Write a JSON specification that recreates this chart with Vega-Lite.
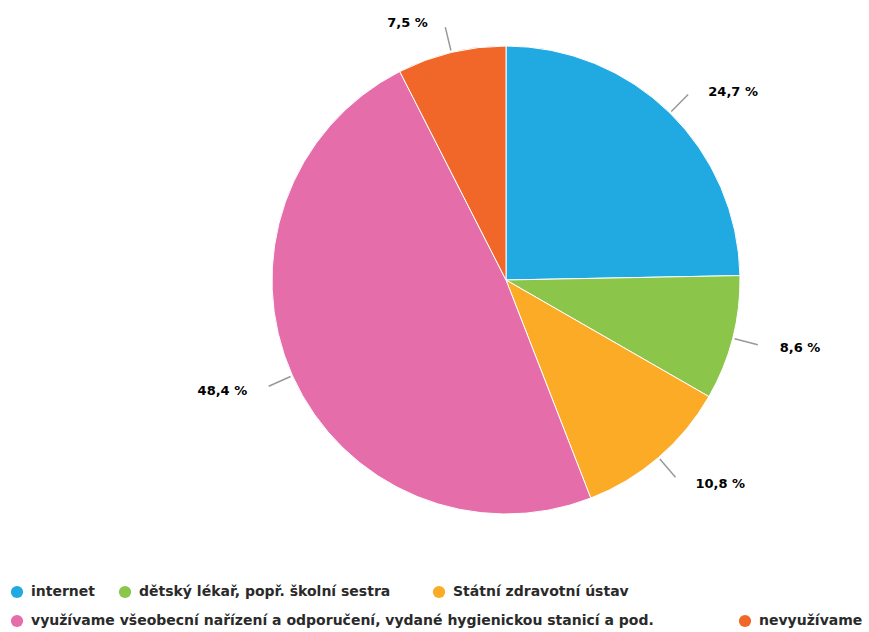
{
  "$schema": "https://vega.github.io/schema/vega-lite/v6.json",
  "width": 726,
  "height": 560,
  "autosize": "none",
  "padding": {"left": 143, "top": 0, "right": 0, "bottom": 72},
  "background": "white",
  "config": {
    "view": {"stroke": null},
    "legend": {
      "orient": "none",
      "title": null,
      "symbolType": "circle",
      "symbolSize": 150,
      "symbolStrokeWidth": 0,
      "symbolOpacity": 1,
      "labelFont": "DejaVu Sans",
      "labelFontSize": 14,
      "labelFontWeight": "bold",
      "labelColor": "#2a2a2a",
      "labelLimit": 0,
      "labelOffset": 7
    }
  },
  "data": {
    "values": [
      {"kategorie": "internet", "podil": 24.7},
      {"kategorie": "dětský lékař, popř. školní sestra", "podil": 8.6},
      {"kategorie": "Státní zdravotní ústav", "podil": 10.8},
      {"kategorie": "využívame všeobecní nařízení a odporučení, vydané hygienickou stanicí a pod.", "podil": 48.4},
      {"kategorie": "nevyužívame", "podil": 7.5}
    ]
  },
  "transform": [
    {"window": [{"op": "row_number", "as": "poradi"}, {"op": "sum", "field": "podil", "as": "kum"}], "frame": [null, 0]},
    {"joinaggregate": [{"op": "sum", "field": "podil", "as": "celkem"}]},
    {"calculate": "datum.kum - datum.podil / 2 < datum.celkem / 2", "as": "vpravo"},
    {"calculate": "replace(format(datum.podil, '.1f'), '.', ',') + ' %'", "as": "popisek"},
    {"calculate": "datum.vpravo ? datum.popisek : ''", "as": "popisekP"},
    {"calculate": "datum.vpravo ? '' : datum.popisek", "as": "popisekL"}
  ],
  "encoding": {
    "theta": {"field": "podil", "type": "quantitative", "stack": true},
    "order": {"field": "poradi", "type": "quantitative"}
  },
  "layer": [
    {
      "mark": {"type": "arc", "outerRadius": 234, "stroke": "white", "strokeWidth": 1},
      "encoding": {
        "color": {
          "field": "kategorie",
          "type": "nominal",
          "scale": {
            "domain": ["internet", "dětský lékař, popř. školní sestra", "Státní zdravotní ústav", "využívame všeobecní nařízení a odporučení, vydané hygienickou stanicí a pod.", "nevyužívame"],
            "range": ["#21a9e1", "#8bc64a", "#fbab26", "#e46daa", "#f16729"]
          },
          "legend": null
        }
      }
    },
    {
      "mark": {"type": "arc", "radius": 236, "radius2": 260, "padAngle": 3, "fill": null, "filled": false, "stroke": "#999999", "strokeWidth": 1.5},
      "encoding": {}
    },
    {
      "mark": {"type": "text", "radius": 266, "dx": 16, "dy": 2, "font": "DejaVu Sans", "fontSize": 13, "fontWeight": "bold", "fill": "#000000", "align": "left", "baseline": "middle"},
      "encoding": {"text": {"field": "popisekP", "type": "nominal"}}
    },
    {
      "mark": {"type": "text", "radius": 266, "dx": -16, "dy": 2, "font": "DejaVu Sans", "fontSize": 13, "fontWeight": "bold", "fill": "#000000", "align": "right", "baseline": "middle"},
      "encoding": {"text": {"field": "popisekL", "type": "nominal"}}
    },
    {
      "transform": [{"filter": "datum.poradi == 1"}],
      "mark": {"type": "arc", "outerRadius": 0},
      "encoding": {"color": {"field": "kategorie", "type": "nominal", "scale": {"range": ["#21a9e1"]}, "legend": {"legendX": -133, "legendY": 585}}}
    },
    {
      "transform": [{"filter": "datum.poradi == 2"}],
      "mark": {"type": "arc", "outerRadius": 0},
      "encoding": {"color": {"field": "kategorie", "type": "nominal", "scale": {"range": ["#8bc64a"]}, "legend": {"legendX": -25, "legendY": 585}}}
    },
    {
      "transform": [{"filter": "datum.poradi == 3"}],
      "mark": {"type": "arc", "outerRadius": 0},
      "encoding": {"color": {"field": "kategorie", "type": "nominal", "scale": {"range": ["#fbab26"]}, "legend": {"legendX": 289, "legendY": 585}}}
    },
    {
      "transform": [{"filter": "datum.poradi == 4"}],
      "mark": {"type": "arc", "outerRadius": 0},
      "encoding": {"color": {"field": "kategorie", "type": "nominal", "scale": {"range": ["#e46daa"]}, "legend": {"legendX": -133, "legendY": 614}}}
    },
    {
      "transform": [{"filter": "datum.poradi == 5"}],
      "mark": {"type": "arc", "outerRadius": 0},
      "encoding": {"color": {"field": "kategorie", "type": "nominal", "scale": {"range": ["#f16729"]}, "legend": {"legendX": 595, "legendY": 614}}}
    }
  ],
  "resolve": {"scale": {"color": "independent"}, "legend": {"color": "independent"}}
}
